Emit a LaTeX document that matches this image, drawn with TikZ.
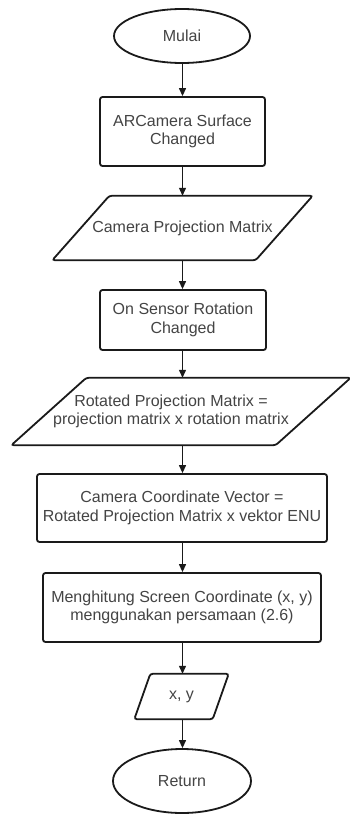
\documentclass[tikz,border=0pt]{standalone}
\usepackage{fontspec}
\setmainfont{Liberation Sans}
\usetikzlibrary{arrows.meta,shapes.geometric}
\definecolor{ink}{HTML}{1A1A1A}
\definecolor{txt}{HTML}{444444}
\tikzset{
  shapeline/.style={draw=ink, line width=1.8pt, rounded corners=2.5pt},
  lbl/.style={text=txt, font=\fontsize{16}{18.5}\selectfont, align=center, inner sep=0pt},
  term/.style={ellipse, draw=ink, line width=1.8pt, lbl},
  procbox/.style={rectangle, shapeline, lbl},
  iobox/.style={rectangle, draw=none, lbl},
  flow/.style={draw=ink, line width=1.2pt, -{Triangle[length=8pt,width=7pt]}}
}
% parallelogram around an (invisible) rectangular node: #1 node, #2 half slant
\newcommand\drawpara[2]{%
  \draw[shapeline] ([xshift=#2]#1.north west) -- ([xshift=#2]#1.north east)
    -- ([xshift=-#2]#1.south east) -- ([xshift=-#2]#1.south west) -- cycle;}
\begin{document}
\begin{tikzpicture}[x=1pt,y=-1pt]
\useasboundingbox[fill=white] (0,0) rectangle (349,814);

\node[term, minimum width=136pt, minimum height=54pt] (start) at (182,36) {Mulai};
\node[procbox, minimum width=165pt, minimum height=69pt] (b1) at (182.5,131.5) {ARCamera Surface\\Changed};
\node[iobox, minimum width=203pt, minimum height=64pt] (p1) at (182.5,228) {Camera Projection Matrix};
\node[procbox, minimum width=166pt, minimum height=60pt] (b2) at (183,320) {On Sensor Rotation\\Changed};
\node[iobox, minimum width=264pt, minimum height=67pt] (p2) at (181,411.5) {};
\node[lbl] (p2t) at (171,411.5) {Rotated Projection Matrix =\\projection matrix x rotation matrix};
\node[procbox, minimum width=290pt, minimum height=68pt] (b3) at (182,508) {Camera Coordinate Vector =\\Rotated Projection Matrix x vektor ENU};
\node[procbox, minimum width=278pt, minimum height=69pt] (b4) at (182,607.5) {Menghitung Screen Coordinate (x, y)\\menggunakan persamaan (2.6)};
\node[iobox, minimum width=78pt, minimum height=45pt] (p3) at (181.5,696.5) {x, y};
\node[term, minimum width=138pt, minimum height=64pt] (stop) at (182,781) {Return};

\drawpara{p1}{28.5pt}
\drawpara{p2}{37.5pt}
\drawpara{p3}{8pt}

\draw[flow] (start.south) -- (start.south -| b1.north) -- (b1.north);
\draw[flow] (b1.south) -- (b1.south |- p1.north);
\draw[flow] (b1.south |- p1.south) -- (b1.south |- b2.north);
\draw[flow] (b1.south |- b2.south) -- (b1.south |- p2.north);
\draw[flow] (b1.south |- p2.south) -- (b1.south |- b3.north);
\draw[flow] (b1.south |- b3.south) -- (b1.south |- b4.north);
\draw[flow] (b1.south |- b4.south) -- (b1.south |- p3.north);
\draw[flow] (b1.south |- p3.south) -- (b1.south |- stop.north);
\end{tikzpicture}
\end{document}
